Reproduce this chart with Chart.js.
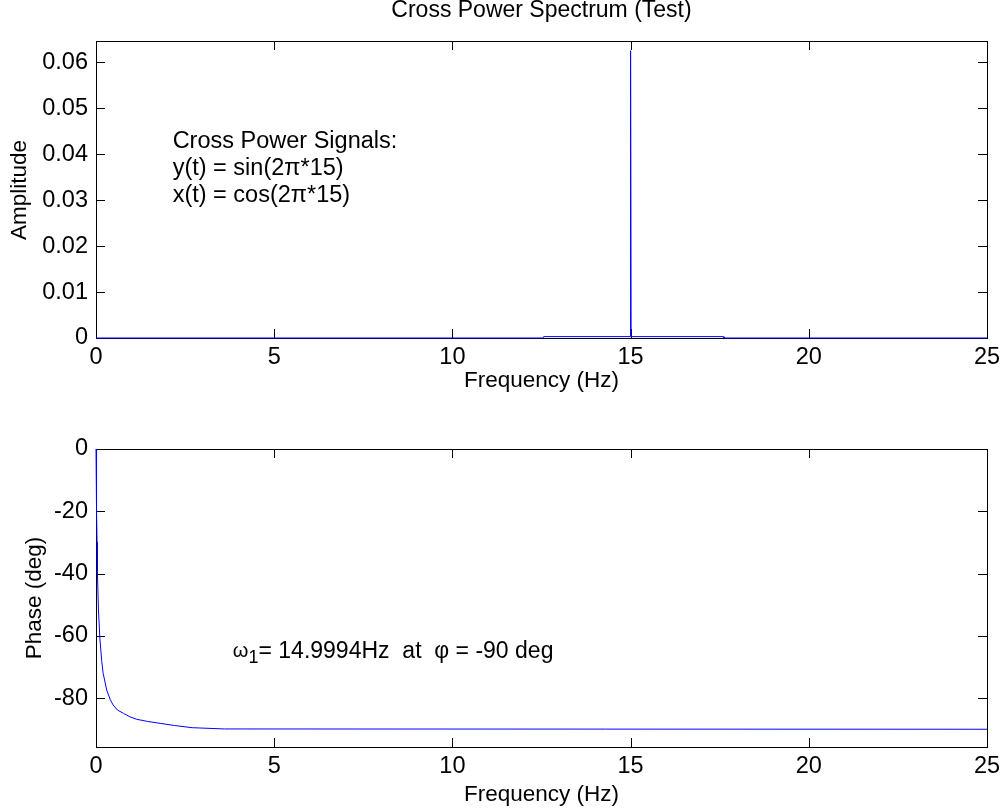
<!DOCTYPE html>
<html>
<head>
<meta charset="utf-8">
<script src="https://cdn.jsdelivr.net/npm/chart.js@4/dist/chart.umd.min.js"></script>
<style>
  html, body { margin: 0; padding: 0; background: #fff; }
  #top { position: absolute; left: 0; top: 0; width: 1008px; height: 405px; }
  #bot { position: absolute; left: 0; top: 405px; width: 1008px; height: 406px; }
</style>
</head>
<body>
<div id="top"><canvas id="ampChart"></canvas></div>
<div id="bot"><canvas id="phaseChart"></canvas></div>
<script>
// cross power amplitude (top plot)
var ampFreq = [0, 12.54, 12.56, 14.985, 14.9994, 15.014, 17.6, 17.62, 25];
var ampValues = [0, 0, 0.0003, 0.0003, 0.0625, 0.0003, 0.0003, 0, 0];

// phase (bottom plot)
var phaseFreq = [0, 0.01, 0.02, 0.03, 0.04, 0.07, 0.11, 0.16, 0.2, 0.3, 0.4, 0.48, 0.6, 0.77, 0.95, 1.14, 1.45, 1.8, 2.2, 2.7, 3.6, 25];
var phaseValues = [0, -10, -20, -30, -40, -52, -61, -68, -72, -77.4, -80.5, -82.2, -83.8, -84.9, -86, -86.8, -87.5, -88.1, -88.8, -89.5, -89.9, -90];

var freqTicks = [0, 5, 10, 15, 20, 25];
var ampTicks = [0, 0.01, 0.02, 0.03, 0.04, 0.05, 0.06];
var phaseTicks = [-80, -60, -40, -20, 0];

var FONT = "'Liberation Sans', Arial, sans-serif";
var FS = 23.5;
Chart.defaults.font.family = FONT;
Chart.defaults.color = "#000";

// matlab style box with inward ticks + free text
var matlabFrame = {
    id: "matlabFrame",
    beforeDatasetsDraw: function (chart) {
        var ctx = chart.ctx;
        var a = chart.chartArea;
        var xs = chart.scales.x;
        var ys = chart.scales.y;
        ctx.save();
        ctx.strokeStyle = "#000";
        ctx.lineWidth = 1;
        ctx.strokeRect(a.left + 0.5, a.top + 0.5, a.right - a.left, a.bottom - a.top);
        ctx.beginPath();
        xs.ticks.forEach(function (t) {
            var px = Math.round(xs.getPixelForValue(t.value)) + 0.5;
            ctx.moveTo(px, a.bottom);
            ctx.lineTo(px, a.bottom - 9);
            ctx.moveTo(px, a.top);
            ctx.lineTo(px, a.top + 9);
        });
        ys.ticks.forEach(function (t) {
            var py = Math.round(ys.getPixelForValue(t.value)) + 0.5;
            ctx.moveTo(a.left, py);
            ctx.lineTo(a.left + 9, py);
            ctx.moveTo(a.right, py);
            ctx.lineTo(a.right - 9, py);
        });
        ctx.stroke();
        ctx.restore();
    },
    afterDraw: function (chart, args, opts) {
        var ctx = chart.ctx;
        var xs = chart.scales.x;
        var ys = chart.scales.y;
        (opts.texts || []).forEach(function (t) {
            var x = t.px !== undefined ? t.px : xs.getPixelForValue(t.x);
            var y = t.py !== undefined ? t.py : ys.getPixelForValue(t.y);
            ctx.save();
            ctx.fillStyle = "#000";
            ctx.font = t.size + "px " + FONT;
            ctx.textAlign = t.align || "center";
            ctx.textBaseline = "middle";
            ctx.translate(x, y);
            if (t.rotate) ctx.rotate(t.rotate);
            if (t.parts) {
                var cx = 0;
                t.parts.forEach(function (p) {
                    ctx.font = p.size + "px " + FONT;
                    ctx.textAlign = "left";
                    ctx.fillText(p.text, cx, p.dy || 0);
                    cx += ctx.measureText(p.text).width;
                });
            } else {
                ctx.fillText(t.text, 0, 0);
            }
            ctx.restore();
        });
    }
};

function makeOptions(yTicks, yMin, yMax, fmt, padTop, xHeight, texts) {
    return {
        responsive: true,
        maintainAspectRatio: false,
        animation: false,
        layout: { padding: { top: padTop, right: 21, left: 0, bottom: 0 } },
        scales: {
            x: {
                type: "linear",
                min: 0,
                max: 25,
                grid: { display: false, drawTicks: false },
                border: { display: false },
                afterBuildTicks: function (scale) {
                    scale.ticks = freqTicks.map(function (v) { return { value: v }; });
                },
                afterFit: function (scale) { scale.height = xHeight; },
                ticks: {
                    autoSkip: false,
                    maxRotation: 0,
                    padding: 5,
                    font: { size: FS },
                    callback: function (v) { return String(v); }
                }
            },
            y: {
                min: yMin,
                max: yMax,
                grid: { display: false, drawTicks: false },
                border: { display: false },
                afterBuildTicks: function (scale) {
                    scale.ticks = yTicks.map(function (v) { return { value: v }; });
                },
                afterFit: function (scale) { scale.width = 96; },
                ticks: {
                    autoSkip: false,
                    padding: 8,
                    font: { size: FS },
                    callback: fmt
                }
            }
        },
        plugins: {
            legend: { display: false },
            tooltip: { enabled: false },
            matlabFrame: { texts: texts }
        }
    };
}

var ampCtx = document.getElementById("ampChart").getContext("2d");
var ampChart = new Chart(ampCtx, {
    type: "line",
    data: {
        datasets: [{
            data: ampFreq.map(function (f, i) { return { x: f, y: ampValues[i] }; }),
            borderColor: "#0000ff",
            borderWidth: 1,
            pointRadius: 0,
            tension: 0,
            clip: false
        }]
    },
    options: makeOptions(ampTicks, 0, 0.0646,
        function (v) { return v === 0 ? "0" : v.toFixed(2); }, 41, 67, [
            { text: "Cross Power Spectrum (Test)", px: 541.5, py: 11, size: 23 },
            { text: "Amplitude", px: 20, py: 190, size: 22.5, rotate: -Math.PI / 2 },
            { text: "Frequency (Hz)", px: 541.5, py: 381, size: 22.5 },
            { text: "Cross Power Signals:", x: 2.15, y: 0.0428, size: FS, align: "left" },
            { text: "y(t) = sin(2\u03c0*15)", x: 2.15, y: 0.0369, size: FS, align: "left" },
            { text: "x(t) = cos(2\u03c0*15)", x: 2.15, y: 0.0311, size: FS, align: "left" }
        ]),
    plugins: [matlabFrame]
});

var phaseCtx = document.getElementById("phaseChart").getContext("2d");
var phaseChart = new Chart(phaseCtx, {
    type: "line",
    data: {
        datasets: [{
            data: phaseFreq.map(function (f, i) { return { x: f, y: phaseValues[i] }; }),
            borderColor: "#0000ff",
            borderWidth: 1,
            pointRadius: 0,
            tension: 0,
            clip: false
        }]
    },
    options: makeOptions(phaseTicks, -95.7, 0,
        function (v) { return String(v); }, 44, 64, [
            { text: "Phase (deg)", px: 35, py: 193, size: 22.5, rotate: -Math.PI / 2 },
            { text: "Frequency (Hz)", px: 541.5, py: 390, size: 22.5 },
            { x: 3.84, y: -65, align: "left", parts: [
                { text: "\u03c9", size: 20 },
                { text: "1", size: 18, dy: 7 },
                { text: "= 14.9994Hz  at  \u03c6 = -90 deg", size: 23 }
            ] }
        ]),
    plugins: [matlabFrame]
});
</script>
</body>
</html>
